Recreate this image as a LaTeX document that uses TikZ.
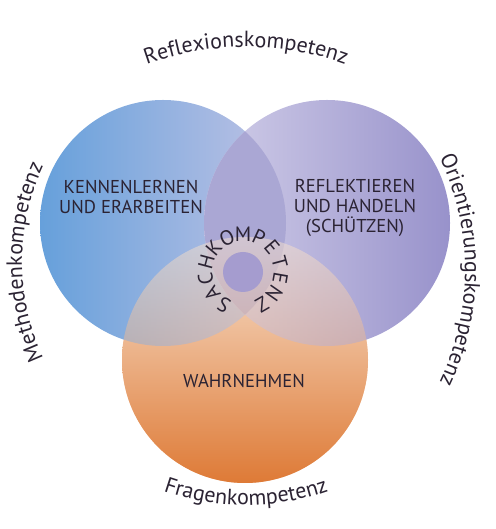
\documentclass[tikz,border=0pt]{standalone}
\usepackage{fontspec}
\setmainfont{PT Sans}
\usetikzlibrary{decorations.text}
\definecolor{ink}{HTML}{2B2333}
\definecolor{blueL}{HTML}{66A0DB}
\definecolor{blueR}{HTML}{C0C3E5}
\definecolor{lilaL}{HTML}{D2CFE9}
\definecolor{lilaR}{HTML}{9892CB}
\definecolor{lens}{HTML}{AAA7D4}
\definecolor{peachT}{HTML}{F8E4D2}
\definecolor{peachM}{HTML}{F2C7A2}
\definecolor{peachB}{HTML}{DE7A36}
\definecolor{kerncol}{HTML}{A59CCF}
\newcommand\outerfont{\fontsize{12.5}{15}\selectfont}
\newcommand\capsfont{\fontsize{10.6}{11.6}\selectfont}
\tikzset{
	arclabel/.style={
		decorate,
		decoration={text along path, text align=center, text color=ink, text={|\outerfont|#1}}
	}
}

\begin{document}
\begin{tikzpicture}[x=0.2mm, y=0.2mm]
	\tikzstyle{caps}=[align=center, font=\capsfont, text=ink, inner sep=0pt]
	\tikzstyle{sachletter}=[font=\fontsize{11.8}{13}\selectfont, text=ink, inner sep=0pt]
	\tikzstyle{peach}=[top color=peachT, middle color=peachM, bottom color=peachB]
	\useasboundingbox (0,0) rectangle (495,529);
	% circles
	\shade[peach] (245,169) circle (123);
	\shade[left color=blueL, right color=blueR] (163,306) circle (123);
	\shade[left color=lilaL, right color=lilaR] (327,306) circle (123);
	\begin{scope}
		\clip (163,306) circle (123);
		\fill[lens] (327,306) circle (123);
	\end{scope}
	\shade[peach, opacity=0.5] (245,169) circle (123);
	\node[circle, fill=kerncol, minimum size=8mm, inner sep=0pt] (kern) at (243,257) {};
	
	% texts in the circles
	\node[caps] (kennen) at (131,332) {KENNENLERNEN\\UND ERARBEITEN};
	\node[caps] (reflekt) at (355,321) {REFLEKTIEREN\\UND HANDELN\\(SCHÜTZEN)};
	\node[caps] (wahr) at (244,148) {WAHRNEHMEN};
	\foreach \l [count=\i, evaluate=\i as \a using 240-25*(\i-1)] in {S,A,C,H,K,O,M,P,E,T,E,N,Z}
		\node[sachletter, rotate=\a-90] (sach\i) at ([shift={(\a:38)}]kern.center) {\l};
	
	% outer labels
	\path[arclabel=Reflexionskompetenz] (246,190) ++(118:292) arc[start angle=118, end angle=62, radius=292];
	\path[arclabel=Methodenkompetenz] (247,267) ++(215:225) arc[start angle=215, end angle=145, radius=225];
	\path[arclabel=Orientierungskompetenz] (206,259) ++(35:259) arc[start angle=35, end angle=-35, radius=259];
	\path[arclabel=Fragenkompetenz] (246,274) ++(238:250) arc[start angle=238, end angle=302, radius=250];
\end{tikzpicture}
\end{document}
